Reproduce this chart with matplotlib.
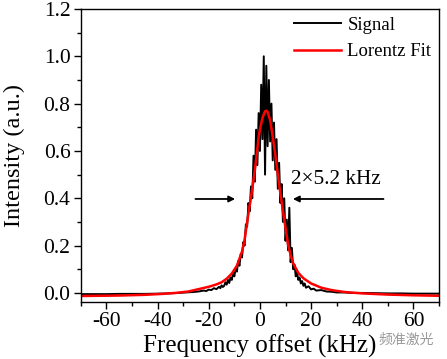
"""Noisy beat-note spectrum with a Lorentz fit.
"""
import matplotlib
matplotlib.use('Agg')
import matplotlib.pyplot as plt
from matplotlib.ticker import MultipleLocator

# measured signal (kHz, a.u.)
signal_khz = [-70, -65, -60, -55, -50, -45, -40, -36, -32, -29, -26, -24,
              -22, -21, -20, -19, -18, -17, -16, -15.5, -15, -14.5,
              -14, -13.5, -13, -12.5, -12, -11.5, -11, -10.5, -10, -9.5,
              -9, -8.5, -8, -7.5, -7, -6.5, -6, -5.5, -5, -4.5, -4, -3.5,
              -3, -2.5, -2, -1.5, -1, -0.5, 0, 0.5, 1, 1.5, 2, 2.5, 3, 3.5,
              4, 4.5, 5, 5.5, 6, 6.5, 7, 7.5, 8, 8.5, 9, 9.5, 10, 10.5,
              11, 11.5, 12, 12.5, 13, 13.5, 14, 14.5, 15, 15.5, 16, 16.5,
              17, 17.5, 18, 19, 20, 21, 22, 24, 26, 28, 30, 33, 36, 40,
              45, 50, 55, 60, 65, 70]
signal_val = [-0.005, -0.005, -0.005, -0.004, -0.004, -0.004, -0.003, -0.002,
              0.000, 0.002, 0.004, 0.006, 0.010, 0.008, 0.014, 0.012, 0.020,
              0.016, 0.026, 0.020, 0.032, 0.025,
              0.030, 0.045, 0.035, 0.055, 0.042, 0.065, 0.055, 0.085, 0.070,
              0.105, 0.090, 0.135, 0.115, 0.165, 0.150, 0.215, 0.200, 0.290,
              0.280, 0.380, 0.345, 0.450, 0.400, 0.580, 0.470, 0.690, 0.540,
              0.760, 0.600, 0.880, 0.650, 1.000, 0.500, 0.960, 0.620, 0.900,
              0.640, 0.800, 0.560, 0.720, 0.520, 0.650, 0.440, 0.550, 0.380,
              0.460, 0.300, 0.400, 0.220, 0.310, 0.180, 0.360, 0.130, 0.190,
              0.100, 0.120, 0.070, 0.090, 0.055, 0.065, 0.040, 0.050, 0.030,
              0.040, 0.022, 0.028, 0.015, 0.018, 0.010, 0.012, 0.006, 0.005,
              0.002, 0.002, 0.000, 0.000, -0.001, -0.002, -0.002, -0.003,
              -0.003, -0.003]

# Lorentz fit curve
fit_khz = [-70, -55, -45, -38, -33, -28, -24, -20, -17, -15, -13, -11, -9,
           -7, -6, -5, -4, -3, -2, -1, -0.5, 0, 1, 2, 2.5, 3, 4, 5, 6, 7,
           8, 9, 10, 11, 12, 13, 15, 17, 20, 24, 28, 33, 40, 50, 60, 70]
fit_val = [-0.013, -0.011, -0.008, -0.004, 0.000, 0.006, 0.016, 0.026,
           0.036, 0.045, 0.060, 0.082, 0.115, 0.175, 0.225, 0.300, 0.370,
           0.440, 0.520, 0.610, 0.660, 0.690, 0.740, 0.768, 0.770, 0.765,
           0.730, 0.660, 0.585, 0.500, 0.420, 0.345, 0.275, 0.205, 0.160,
           0.125, 0.085, 0.062, 0.040, 0.022, 0.012, 0.004, -0.002, -0.007,
           -0.010, -0.012]

width_label = '2×5.2 kHz'

plt.rcParams['font.family'] = ['Liberation Serif', 'DejaVu Serif']
plt.rcParams['axes.unicode_minus'] = False

fig = plt.figure(figsize=(4.47, 3.59), dpi=100)
ax = fig.add_axes([0.181, 0.159, 0.801, 0.816])

ax.plot(signal_khz, signal_val, color='black', lw=1.4, label='Signal')
ax.plot(fit_khz, fit_val, color='red', lw=1.8, label='Lorentz Fit')

ax.set_xlim(-70, 70)
ax.set_ylim(-0.038, 1.2)
ax.xaxis.set_major_locator(MultipleLocator(20))
ax.xaxis.set_minor_locator(MultipleLocator(10))
ax.yaxis.set_major_locator(MultipleLocator(0.2))
ax.yaxis.set_minor_locator(MultipleLocator(0.1))
ax.yaxis.set_major_formatter(plt.FormatStrFormatter('%.1f'))
ax.tick_params(which='major', direction='out', length=5, width=1,
               labelsize=15.5, pad=2.5)
ax.tick_params(which='minor', direction='out', length=3, width=1)
for s in ax.spines.values():
    s.set_linewidth(1.0)

ax.set_xlabel('Frequency offset (kHz)', fontsize=18, labelpad=2)
ax.set_ylabel('Intensity (a.u.)', fontsize=17.5, labelpad=13)

# linewidth markers
arrow = dict(arrowstyle='-|>', color='black', lw=1.3, mutation_scale=9)
ax.annotate('', xy=(-8.6, 0.397), xytext=(-26.3, 0.397), arrowprops=arrow)
ax.annotate('', xy=(11.8, 0.397), xytext=(49.4, 0.397), arrowprops=arrow)
ax.text(12.2, 0.478, width_label, fontsize=15.3, va='center', ha='left')

ax.legend(loc='upper right', frameon=False, fontsize=13.5, handlelength=2.5,
          handletextpad=0.35, labelspacing=0.5, borderaxespad=0.0,
          bbox_to_anchor=(1.0, 1.0))

fig.text(0.97, 0.053, '频准激光', color='#999999', fontsize=10,
         ha='right', va='center',
         family=['Noto Sans CJK SC', 'DejaVu Sans'])

fig.savefig('out.png', dpi=100)
